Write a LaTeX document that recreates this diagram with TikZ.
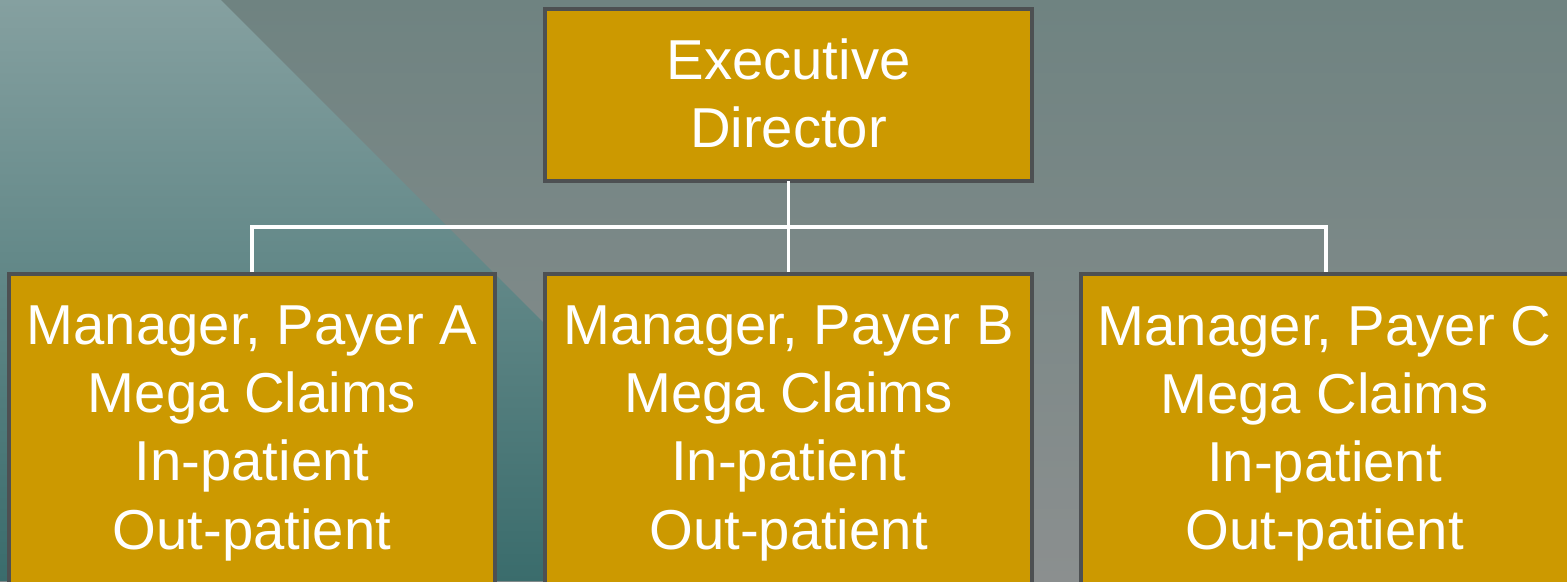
\documentclass[tikz,border=0pt]{standalone}
\usepackage{fontspec}
\setmainfont{Liberation Sans}
\definecolor{boxfill}{RGB}{204,153,0}
\definecolor{boxline}{RGB}{77,80,82}
\definecolor{greytop}{RGB}{111,131,129}
\definecolor{greybot}{RGB}{139,143,143}
\definecolor{tealtop}{RGB}{133,160,160}
\definecolor{tealbot}{RGB}{58,108,108}
\begin{document}
\begin{tikzpicture}[x=0.01cm,y=-0.01cm,
  box/.style={draw=boxline, line width=1.1pt, fill=boxfill, inner sep=0pt, outer sep=0pt},
  lbl/.style={text=white, align=center, inner sep=0pt, font=\fontsize{16}{19.4}\selectfont},
  conn/.style={draw=white, line width=0.9pt}]
  \useasboundingbox (0,0) rectangle (1567,581);
  \clip (0,0) rectangle (1567,581);
  % backdrop: grey field with a teal wedge cut at 45 degrees
  \shade[top color=greytop, bottom color=greybot] (0,0) rectangle (1567,581);
  \shade[top color=tealtop, bottom color=tealbot] (0,0) -- (221,0) -- (802,581) -- (0,581) -- cycle;
  % boxes
  \node[box, minimum width=4.87cm, minimum height=1.72cm] (ed) at (788.5,95) {};
  \node[box, minimum width=4.86cm, minimum height=4.00cm] (pa) at (252,474) {};
  \node[box, minimum width=4.87cm, minimum height=4.00cm] (pb) at (788.5,474) {};
  \node[box, minimum width=4.90cm, minimum height=4.00cm] (pc) at (1326,474) {};
  % reporting lines
  \coordinate (bus) at (788.5,227);
  \draw[conn] (ed.south) -- (bus);
  \draw[conn] (bus) -- (pb.north);
  \draw[conn] (pa.north) |- (bus) -| (pc.north);
  % redraw box outlines over the line ends
  \draw[boxline, line width=1.1pt] (pa.north west) -- (pa.north east);
  \draw[boxline, line width=1.1pt] (pb.north west) -- (pb.north east);
  \draw[boxline, line width=1.1pt] (pc.north west) -- (pc.north east);
  % texts
  \node[lbl, anchor=north] (edt) at (788.5,38) {Executive\\Director};
  \node[lbl, anchor=north] (pat) at (252,305) {Manager, Payer A\\Mega Claims\\In-patient\\Out-patient};
  \node[lbl, anchor=north] (pbt) at (788.5,305) {Manager, Payer B\\Mega Claims\\In-patient\\Out-patient};
  \node[lbl, anchor=north] (pct) at (1324.5,305) {Manager, Payer C\\Mega Claims\\In-patient\\Out-patient};
\end{tikzpicture}
\end{document}
